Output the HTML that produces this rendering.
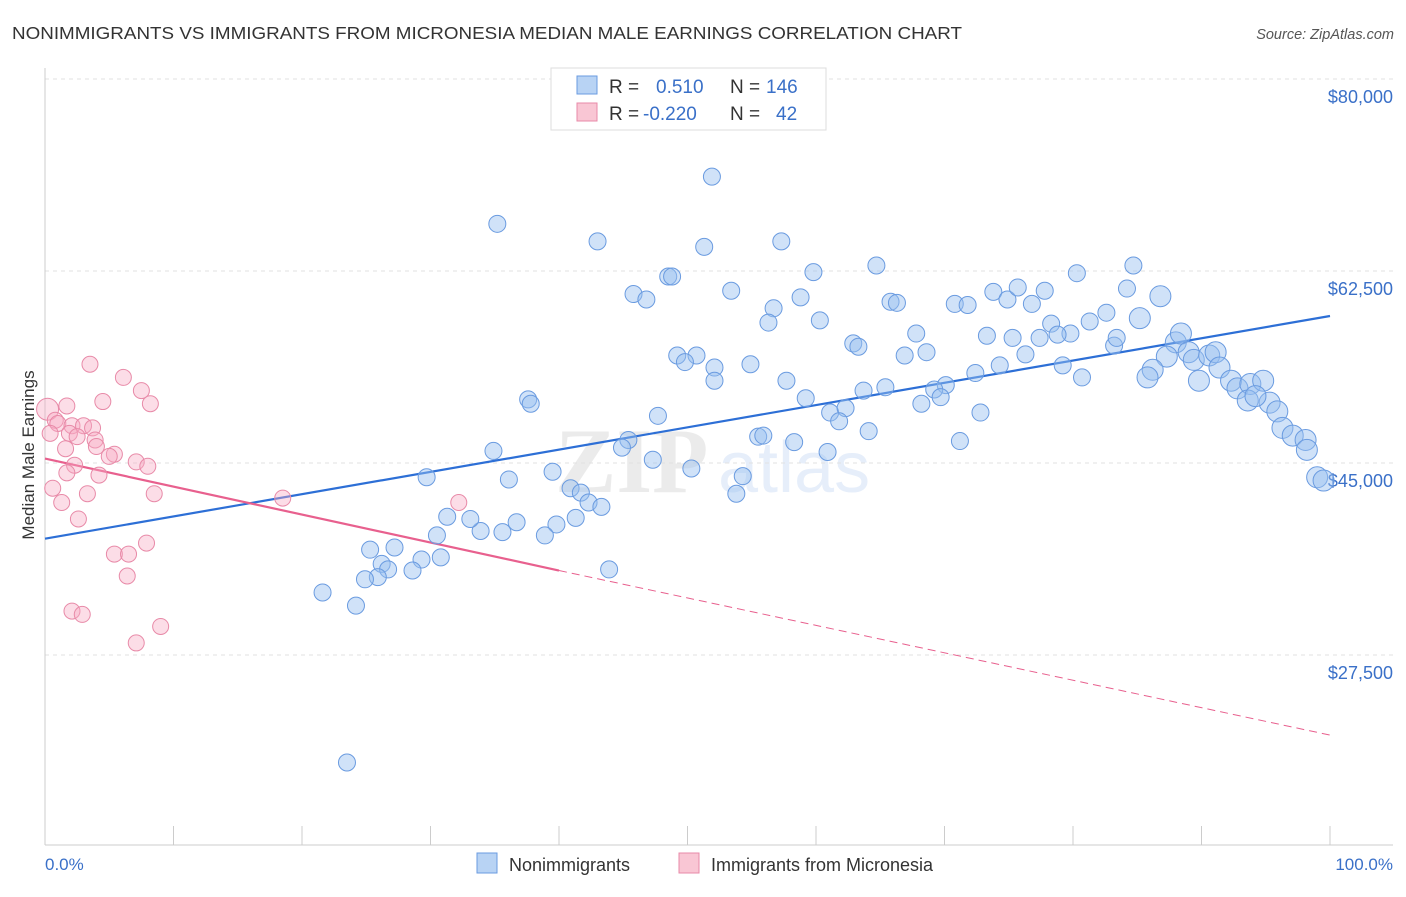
<!DOCTYPE html>
<html><head><meta charset="utf-8"><style>
body{margin:0;background:#fff;font-family:"Liberation Sans",sans-serif;}
</style></head><body>
<svg id="chart" width="1406" height="892" xmlns="http://www.w3.org/2000/svg" font-family="Liberation Sans, sans-serif">
<text x="12" y="39" font-size="17.5" fill="#333" textLength="950" lengthAdjust="spacingAndGlyphs">NONIMMIGRANTS VS IMMIGRANTS FROM MICRONESIA MEDIAN MALE EARNINGS CORRELATION CHART</text>
<text x="1394" y="39" font-size="14.5" fill="#555" text-anchor="end" font-style="italic">Source: ZipAtlas.com</text>
<g opacity="0.12"><text x="555" y="492" font-size="92" font-family="Liberation Serif, serif" fill="#666" font-weight="bold">ZIP</text><text x="718" y="492" font-size="72" fill="#3a78d8">atlas</text></g>
<g id="grid"></g><g id="axes"></g><g id="trends"></g><g id="points"></g>
<text transform="translate(34,455) rotate(-90)" font-size="17" fill="#333" text-anchor="middle">Median Male Earnings</text>
<text x="45" y="870" font-size="17" fill="#3a70c8">0.0%</text>
<text x="1393" y="870" font-size="17" fill="#3a70c8" text-anchor="end">100.0%</text>
<g>
<rect x="551" y="68" width="275" height="62" fill="#fff" stroke="#ddd"/>
<rect x="577" y="76" width="20" height="18" fill="#b8d3f4" stroke="#6a9be0"/>
<rect x="577" y="103" width="20" height="18" fill="#f9c6d4" stroke="#e88aa8"/>
<text x="609" y="93" font-size="19" fill="#333">R =</text><text x="656" y="93" font-size="19" fill="#3a70c8">0.510</text>
<text x="730" y="93" font-size="19" fill="#333">N =</text><text x="766" y="93" font-size="19" fill="#3a70c8">146</text>
<text x="609" y="120" font-size="19" fill="#333">R =</text><text x="643" y="120" font-size="19" fill="#3a70c8">-0.220</text>
<text x="730" y="120" font-size="19" fill="#333">N =</text><text x="776" y="120" font-size="19" fill="#3a70c8">42</text>
</g>
<g>
<rect x="477" y="853" width="20" height="20" fill="#b8d3f4" stroke="#6a9be0"/>
<text x="509" y="871" font-size="18" fill="#333">Nonimmigrants</text>
<rect x="679" y="853" width="20" height="20" fill="#f9c6d4" stroke="#e88aa8"/>
<text x="711" y="871" font-size="18" fill="#333">Immigrants from Micronesia</text>
</g>
</svg>
<script>
const yTicks=[27500,45000,62500,80000];
const yTickLabels=["$27,500","$45,000","$62,500","$80,000"];
const xTicks=[0,10,20,30,40,50,60,70,80,90,100];
const blueX=[51.9,35.2,43.0,51.3,57.3,48.5,48.8,59.8,64.7,45.8,46.8,53.4,58.8,56.7,56.3,60.3,65.8,66.3,70.8,71.8,73.8,74.9,75.7,76.8,77.8,80.3,84.7,84.2,86.8,85.2,82.6,81.3,78.3,79.8,78.8,77.4,75.3,73.3,67.8,62.9,63.3,49.2,50.7,49.8,54.9,52.1,52.1,57.7,66.9,68.6,74.3,76.3,79.2,80.7,83.2,83.4,88.0,88.4,87.3,89.0,89.4,90.6,91.1,91.4,86.2,85.8,89.8,92.3,92.8,93.8,94.8,93.6,95.3,94.2,95.9,96.3,97.1,98.1,98.2,99.0,99.5,72.4,70.1,69.2,69.7,68.2,72.8,71.2,65.4,63.7,59.2,61.1,62.3,61.8,64.1,55.5,55.9,58.3,60.9,47.7,45.4,44.9,47.3,50.3,54.3,53.8,37.6,37.8,34.9,36.1,39.5,40.9,41.7,42.3,43.3,41.3,39.8,38.9,36.7,35.6,33.9,33.1,31.3,30.5,29.7,30.8,29.3,28.6,27.2,25.3,26.2,26.7,25.9,24.9,43.9,21.6,24.2,23.5];
const blueY=[71.1,66.8,65.2,64.7,65.2,62.0,62.0,62.4,63.0,60.4,59.9,60.7,60.1,59.1,57.8,58.0,59.7,59.6,59.5,59.4,60.6,59.9,61.0,59.5,60.7,62.3,63.0,60.9,60.2,58.2,58.7,57.9,57.7,56.8,56.7,56.4,56.4,56.6,56.8,55.9,55.6,54.8,54.8,54.2,54.0,53.7,52.5,52.5,54.8,55.1,53.9,54.9,53.9,52.8,55.7,56.4,56.0,56.8,54.7,55.1,54.4,54.8,55.1,53.7,53.5,52.8,52.5,52.5,51.8,52.2,52.5,50.7,50.5,51.1,49.7,48.2,47.5,47.1,46.2,43.7,43.4,53.2,52.1,51.7,51.0,50.4,49.6,47.0,51.9,51.6,50.9,49.6,50.0,48.8,47.9,47.4,47.5,46.9,46.0,49.3,47.1,46.4,45.3,44.5,43.8,42.2,50.8,50.4,46.1,43.5,44.2,42.7,42.3,41.4,41.0,40.0,39.4,38.4,39.6,38.7,38.8,39.9,40.1,38.4,43.7,36.4,36.2,35.2,37.3,37.1,35.8,35.3,34.6,34.4,35.3,33.2,32.0,17.7];
const pinkX=[3.5,6.1,7.5,4.5,8.2,1.7,0.2,0.8,1.0,2.1,3.0,3.7,0.4,1.9,3.9,2.5,4.0,1.6,5.4,5.0,2.3,7.1,8.0,1.7,4.2,0.6,3.3,8.5,1.3,18.5,32.2,2.6,7.9,5.4,6.5,6.4,2.1,2.9,9.0,7.1];
const pinkY=[54.0,52.8,51.6,50.6,50.4,50.2,49.9,48.9,48.6,48.4,48.4,48.2,47.7,47.7,47.1,47.4,46.5,46.3,45.8,45.6,44.8,45.1,44.7,44.1,43.9,42.7,42.2,42.2,41.4,41.8,41.4,39.9,37.7,36.7,36.7,34.7,31.5,31.2,30.1,28.6];
const blueTrend=[[0,38.1],[100,58.4]];
const pinkTrendSolid=[[0,45.4],[40,35.2]];
const pinkTrendDash=[[40,35.2],[100,20.2]];
const NS="http://www.w3.org/2000/svg";
const X=p=>45+p*12.85;
const Y=v=>79+(80000-v)*192/17500;
const YK=k=>Y(k*1000);
function mk(tag,attrs,parent){const e=document.createElementNS(NS,tag);for(const k in attrs)e.setAttribute(k,attrs[k]);document.getElementById(parent).appendChild(e);return e;}
yTicks.forEach((t,i)=>{
 const l=mk('line',{x1:45,x2:1393,y1:Y(t),y2:Y(t),stroke:'#e2e2e2','stroke-dasharray':'4,4'},'grid');
 
 
 const tx=mk('text',{x:1393,y:Y(t)+24,'font-size':18,fill:'#3a70c8','text-anchor':'end'},'grid');
 tx.textContent=yTickLabels[i];
 
 
});
const ya=mk('line',{x1:45,x2:45,y1:68,y2:845,stroke:'#ccc'},'axes');


const xa=mk('line',{x1:45,x2:1393,y1:845,y2:845,stroke:'#ccc'},'axes');


xTicks.forEach(t=>{
 const l=mk('line',{x1:X(t),x2:X(t),y1:826,y2:845,stroke:'#ccc'},'axes');
 
 
});
for(let i=0;i<blueX.length;i++){
 const big=blueX[i]>85;
 const c=mk('circle',{cx:X(blueX[i]),cy:YK(blueY[i]),r:big?10.5:8.5,fill:'rgba(150,190,240,0.45)',stroke:'#6a9be0','stroke-width':1},'points');
 
 
}
for(let i=0;i<pinkX.length;i++){
 const c=mk('circle',{cx:X(pinkX[i]),cy:YK(pinkY[i]),r:i==6?11:8,fill:'rgba(247,170,195,0.4)',stroke:'#e88aa8','stroke-width':1},'points');
 
 
}
const bt=mk('line',{x1:X(blueTrend[0][0]),y1:YK(blueTrend[0][1]),x2:X(blueTrend[1][0]),y2:YK(blueTrend[1][1]),stroke:'#2d6fd6','stroke-width':2.2},'trends');


const pt=mk('line',{x1:X(pinkTrendSolid[0][0]),y1:YK(pinkTrendSolid[0][1]),x2:X(pinkTrendSolid[1][0]),y2:YK(pinkTrendSolid[1][1]),stroke:'#e8608e','stroke-width':2.2},'trends');


const pd=mk('line',{x1:X(pinkTrendDash[0][0]),y1:YK(pinkTrendDash[0][1]),x2:X(pinkTrendDash[1][0]),y2:YK(pinkTrendDash[1][1]),stroke:'#e8608e','stroke-width':1,'stroke-dasharray':'8,5'},'trends');


</script>
</body></html>
